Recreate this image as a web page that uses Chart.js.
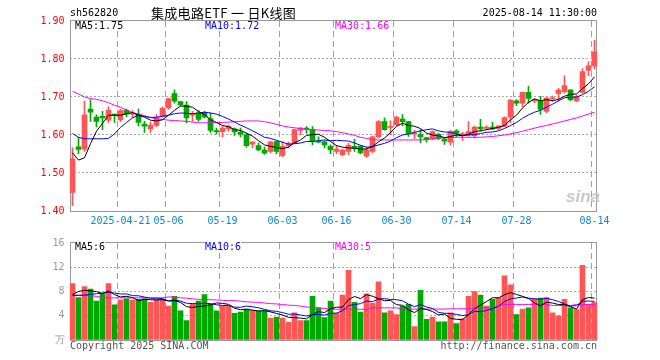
<!DOCTYPE html>
<html><head><meta charset="utf-8">
<script src="https://cdn.jsdelivr.net/npm/chart.js@4"></script>
<style>
html,body{margin:0;padding:0;background:#fff;}
#wrap{position:relative;width:660px;height:360px;overflow:hidden;background:#fff;}
canvas{position:absolute;left:0;}
.t{position:absolute;font-family:"DejaVu Sans Mono",monospace;font-size:10px;line-height:12px;white-space:pre;}
.lg{line-height:10px;background:#fff;}
</style></head><body>
<div id="wrap">
<canvas id="k" width="660" height="232" style="top:0;width:660px;height:232px"></canvas>
<canvas id="v" width="660" height="128" style="top:232px;width:660px;height:128px"></canvas>
<div class="t" style="left:70px;top:7px;color:#000">sh562820</div>
<div class="t" style="left:151px;top:5px;font-family:'Noto Sans CJK SC',sans-serif;font-size:13px;line-height:16px;letter-spacing:0.3px;color:#000">集成电路ETF 一 日K线图</div>
<div class="t" style="right:63px;top:7px;color:#000">2025-08-14 11:30:00</div>
<div class="t lg" style="left:75px;top:21px;color:#000">MA5:1.75</div>
<div class="t lg" style="left:205px;top:21px;color:#0000ff">MA10:1.72</div>
<div class="t lg" style="left:335px;top:21px;color:#ff00ff">MA30:1.66</div>
<div class="t lg" style="left:75px;top:242px;color:#000">MA5:6</div>
<div class="t lg" style="left:205px;top:242px;color:#0000ff">MA10:6</div>
<div class="t lg" style="left:335px;top:242px;color:#ff00ff">MA30:5</div>
<div class="t" style="left:70px;top:340px;color:#555">Copyright 2025 SINA.COM</div>
<div class="t" style="right:63px;top:340px;color:#555">http://finance.sina.com.cn</div>
<div class="t" style="left:566px;top:188px;font-family:'Liberation Sans',sans-serif;font-size:17px;line-height:18px;font-weight:bold;font-style:italic;color:#c9c9c9">sina</div>
</div>
<script>
const dates = ['2025-04-09','2025-04-10','2025-04-11','2025-04-14','2025-04-15','2025-04-16','2025-04-17','2025-04-18','2025-04-21','2025-04-22','2025-04-23','2025-04-24','2025-04-25','2025-04-28','2025-04-29','2025-04-30',
'2025-05-06','2025-05-07','2025-05-08','2025-05-09','2025-05-12','2025-05-13','2025-05-14','2025-05-15','2025-05-16','2025-05-19','2025-05-20','2025-05-21','2025-05-22','2025-05-23','2025-05-26','2025-05-27','2025-05-28','2025-05-29','2025-05-30',
'2025-06-03','2025-06-04','2025-06-05','2025-06-06','2025-06-09','2025-06-10','2025-06-11','2025-06-12','2025-06-13','2025-06-16','2025-06-17','2025-06-18','2025-06-19','2025-06-20','2025-06-23','2025-06-24','2025-06-25','2025-06-26','2025-06-27','2025-06-30',
'2025-07-01','2025-07-02','2025-07-03','2025-07-04','2025-07-07','2025-07-08','2025-07-09','2025-07-10','2025-07-11','2025-07-14','2025-07-15','2025-07-16','2025-07-17','2025-07-18','2025-07-21','2025-07-22','2025-07-23','2025-07-24','2025-07-25','2025-07-28','2025-07-29','2025-07-30','2025-07-31',
'2025-08-01','2025-08-04','2025-08-05','2025-08-06','2025-08-07','2025-08-08','2025-08-11','2025-08-12','2025-08-13','2025-08-14'];
const tickDates = ['2025-04-21','2025-05-06','2025-05-19','2025-06-03','2025-06-16','2025-06-30','2025-07-14','2025-07-28','2025-08-14'];
const tickLabels = ['2025-04-21','05-06','05-19','06-03','06-16','06-30','07-14','07-28','08-14'];
const priceTicks = [1.40,1.50,1.60,1.70,1.80,1.90];
const volTicks = [0,4,8,12,16];
const volUnit = '万';

const open = [1.449,1.569,1.563,1.668,1.647,1.649,1.639,1.655,1.640,1.665,
1.655,1.655,1.629,1.616,1.625,1.649,1.671,1.709,1.688,1.679,
1.652,1.659,1.659,1.643,1.611,1.609,1.616,1.616,1.607,1.601,
1.576,1.572,1.560,1.557,1.583,1.546,1.572,1.579,1.612,1.618,
1.614,1.583,1.582,1.570,1.557,1.548,1.557,1.570,1.570,1.544,
1.557,1.595,1.635,1.620,1.627,1.642,1.635,1.602,1.601,1.593,
1.590,1.602,1.589,1.581,1.611,1.598,1.600,1.598,1.621,1.617,
1.621,1.617,1.623,1.647,1.690,1.684,1.712,1.690,1.691,1.662,
1.695,1.709,1.714,1.719,1.690,1.712,1.770,1.782];
const high = [1.566,1.594,1.689,1.693,1.653,1.662,1.674,1.655,1.668,1.668,
1.664,1.668,1.636,1.634,1.654,1.674,1.697,1.719,1.688,1.688,
1.662,1.664,1.662,1.658,1.618,1.623,1.626,1.619,1.618,1.604,
1.582,1.579,1.568,1.584,1.585,1.583,1.582,1.616,1.620,1.622,
1.622,1.595,1.585,1.574,1.573,1.563,1.578,1.589,1.572,1.568,
1.597,1.638,1.645,1.637,1.649,1.654,1.635,1.612,1.614,1.593,
1.611,1.605,1.591,1.612,1.614,1.607,1.635,1.623,1.641,1.624,
1.634,1.624,1.648,1.694,1.693,1.712,1.728,1.695,1.702,1.700,
1.703,1.723,1.756,1.719,1.706,1.775,1.793,1.849];
const low = [1.414,1.550,1.557,1.636,1.621,1.614,1.633,1.633,1.635,1.648,
1.646,1.623,1.607,1.607,1.621,1.647,1.668,1.684,1.677,1.632,
1.636,1.636,1.645,1.607,1.603,1.595,1.610,1.599,1.595,1.568,
1.566,1.559,1.549,1.553,1.551,1.543,1.566,1.577,1.600,1.605,
1.574,1.580,1.566,1.551,1.551,1.545,1.548,1.557,1.550,1.541,
1.553,1.592,1.613,1.601,1.624,1.624,1.596,1.590,1.579,1.581,
1.587,1.588,1.575,1.573,1.595,1.586,1.597,1.592,1.610,1.614,
1.614,1.614,1.621,1.632,1.677,1.674,1.684,1.685,1.654,1.658,
1.689,1.689,1.711,1.690,1.688,1.710,1.756,1.774];
const close = [1.537,1.562,1.653,1.660,1.636,1.645,1.665,1.652,1.664,1.655,
1.658,1.633,1.623,1.626,1.646,1.670,1.696,1.689,1.679,1.645,
1.657,1.641,1.647,1.612,1.609,1.618,1.623,1.608,1.602,1.572,
1.582,1.561,1.552,1.582,1.557,1.570,1.577,1.614,1.618,1.615,
1.583,1.581,1.574,1.561,1.563,1.560,1.573,1.566,1.553,1.561,
1.595,1.635,1.614,1.623,1.647,1.635,1.604,1.605,1.595,1.588,
1.609,1.591,1.584,1.609,1.605,1.603,1.609,1.621,1.616,1.621,
1.616,1.624,1.646,1.691,1.684,1.712,1.696,1.692,1.667,1.697,
1.697,1.718,1.730,1.693,1.702,1.767,1.782,1.819];
const ma5 = [1.553,1.534,1.540,1.577,1.610,1.631,1.652,1.652,1.652,1.656,
1.659,1.652,1.647,1.639,1.637,1.640,1.652,1.665,1.676,1.676,
1.673,1.662,1.654,1.640,1.633,1.625,1.622,1.614,1.612,1.605,
1.597,1.585,1.574,1.570,1.567,1.564,1.568,1.580,1.587,1.599,
1.601,1.602,1.594,1.583,1.572,1.568,1.566,1.565,1.563,1.563,
1.570,1.582,1.592,1.606,1.623,1.631,1.625,1.623,1.617,1.605,
1.600,1.598,1.593,1.596,1.600,1.598,1.602,1.609,1.611,1.614,
1.617,1.620,1.625,1.640,1.652,1.671,1.686,1.695,1.690,1.693,
1.690,1.694,1.702,1.707,1.708,1.722,1.735,1.753];
const ma10 = [1.604,1.594,1.590,1.590,1.590,1.590,1.591,1.603,1.620,1.633,
1.645,1.652,1.649,1.646,1.647,1.649,1.652,1.656,1.658,1.657,
1.656,1.657,1.660,1.658,1.655,1.649,1.642,1.634,1.626,1.619,
1.611,1.603,1.594,1.591,1.586,1.581,1.576,1.577,1.579,1.583,
1.583,1.585,1.587,1.585,1.586,1.585,1.584,1.579,1.573,1.568,
1.569,1.574,1.578,1.584,1.593,1.600,1.603,1.607,1.611,1.614,
1.616,1.611,1.608,1.607,1.603,1.599,1.600,1.601,1.604,1.607,
1.608,1.611,1.617,1.625,1.633,1.644,1.653,1.660,1.665,1.673,
1.681,1.690,1.698,1.699,1.700,1.706,1.715,1.727];
const ma30 = [1.715,1.708,1.700,1.696,1.694,1.690,1.685,1.678,1.673,1.666,
1.659,1.655,1.651,1.646,1.643,1.641,1.639,1.638,1.637,1.636,
1.634,1.632,1.632,1.632,1.632,1.633,1.634,1.635,1.636,1.637,
1.637,1.637,1.635,1.632,1.628,1.624,1.621,1.619,1.617,1.615,
1.614,1.613,1.612,1.611,1.609,1.606,1.603,1.599,1.594,1.591,
1.588,1.587,1.587,1.587,1.587,1.587,1.587,1.587,1.587,1.588,
1.590,1.592,1.593,1.593,1.594,1.594,1.594,1.594,1.594,1.595,
1.596,1.598,1.600,1.603,1.606,1.610,1.614,1.618,1.622,1.625,
1.629,1.633,1.637,1.641,1.645,1.650,1.655,1.660];
const volume = [9.3,7.0,8.8,8.4,6.4,7.6,9.3,5.8,6.6,6.8,
6.6,6.7,6.8,6.2,6.7,6.7,5.6,7.2,4.8,3.2,
6.0,6.4,7.5,5.9,4.8,5.6,5.6,4.4,4.6,5.1,
4.9,4.8,4.8,3.6,3.8,3.6,2.9,4.5,3.2,3.2,
7.2,5.3,3.7,6.4,4.4,7.4,11.5,6.2,4.6,7.6,
6.1,9.6,4.5,4.8,4.2,5.6,5.9,2.2,8.2,3.4,
3.8,3.0,3.0,4.5,2.7,3.5,7.2,8.0,7.4,5.6,
6.7,7.0,10.6,9.1,4.2,5.1,5.3,6.8,6.9,7.0,
4.5,4.0,6.7,5.3,5.0,12.3,5.8,6.2];
const vma5 = [7.5,8.0,8.2,8.1,7.99,7.65,8.10,7.49,7.11,7.20,
7.00,6.49,6.70,6.64,6.61,6.65,6.42,6.50,6.21,5.50,
5.37,5.53,5.59,5.80,6.12,6.04,5.88,5.25,5.00,5.07,
4.93,4.77,4.85,4.64,4.38,4.12,3.74,3.69,3.61,3.49,
4.21,4.69,4.52,5.16,5.40,5.43,6.67,7.18,6.83,7.47,
7.22,6.84,6.48,6.52,5.83,5.72,4.97,4.52,5.20,5.04,
4.69,4.13,4.29,3.55,3.42,3.36,4.19,5.18,5.76,6.34,
6.98,6.94,7.46,7.81,7.52,7.20,6.85,6.10,5.65,6.23,
6.10,5.85,5.82,5.50,5.09,6.66,7.01,6.91];
const vma10 = [7.35,7.35,7.4,7.5,7.65,7.75,7.85,7.75,7.6,7.60,
7.32,7.29,7.09,6.88,6.91,6.82,6.45,6.60,6.42,6.06,
6.01,5.97,6.04,6.01,5.81,5.70,5.70,5.42,5.40,5.60,
5.48,5.32,5.05,4.82,4.73,4.52,4.26,4.27,4.13,3.94,
4.16,4.22,4.11,4.39,4.44,4.82,5.68,5.85,5.99,6.43,
6.32,6.75,6.83,6.67,6.65,6.47,5.90,5.50,5.86,5.44,
5.21,4.55,4.41,4.37,4.23,4.03,4.16,4.74,4.66,4.88,
5.17,5.57,6.32,6.78,6.93,7.09,6.90,6.78,6.73,6.88,
6.65,6.35,5.96,5.58,5.66,6.38,6.43,6.37];
const vma30 = [7.4,7.4,7.4,7.3,7.2,7.0,6.95,6.95,6.95,6.95,
6.95,6.95,6.95,6.95,6.95,6.95,7.1,7.1,6.95,6.9,
6.8,6.7,6.65,6.65,6.6,6.55,6.5,6.5,6.4,6.3,
6.25,6.2,6.1,6.0,5.95,5.85,5.75,5.7,5.6,5.45,
5.35,5.3,5.2,5.1,5.07,5.07,5.07,5.07,5.07,5.07,
5.3,5.3,5.3,5.3,5.3,5.1,5.1,5.1,5.1,5.1,
5.1,5.1,5.1,5.15,5.15,5.15,5.15,5.15,5.3,5.3,
5.3,5.6,5.87,5.87,5.87,5.87,5.87,5.87,5.87,5.87,
5.7,5.7,5.7,5.7,5.85,5.85,5.85,5.85];

const RED = '#ff5555', GREEN = '#00a800';
const colors = close.map((c,i)=> c >= open[i] ? RED : GREEN);
const bodies = open.map((o,i)=>[o, close[i]]);
const wicks = low.map((l,i)=>[l, high[i]]);
const tickMap = new Map(tickDates.map((d,j)=>[dates.indexOf(d), tickLabels[j]]));
const MONO = 'DejaVu Sans Mono';
const NONE = 'rgba(0,0,0,0)';

const boxPlugin = {id:'box', beforeDatasetsDraw(chart){
  const {ctx, chartArea:a} = chart;
  ctx.save(); ctx.strokeStyle = '#999'; ctx.lineWidth = 1; ctx.setLineDash([]);
  const l = Math.round(a.left)+0.5, r = Math.floor(a.right)-0.5, t = a.top-0.5, b = a.bottom+0.5;
  ctx.strokeRect(l, t, r-l, b-t);
  ctx.restore();
}};

function lineDs(data, color){
  return {type:'line', data, borderColor:color, borderWidth:1, pointRadius:0, tension:0, order:0, fill:false};
}
function xScale(showLabels){
  return {
    type:'category', offset:true,
    grid:{offset:true, drawTicks:false, lineWidth:1,
      color:(c)=> (c.type==='tick' && tickMap.has(c.index)) ? '#a0a0a0' : NONE},
    border:{display:false, dash:[6,4]},
    ticks:{display:showLabels, autoSkip:false, maxRotation:0, minRotation:0, padding:4,
      color:'#0a88d0', font:{family:MONO, size:10},
      callback:(v,i)=> tickMap.get(i) || ''},
    afterFit:(s)=>{ s.height = showLabels ? 21 : 0; }
  };
}

new Chart(document.getElementById('k'), {
  type:'bar',
  data:{labels:dates, datasets:[
    lineDs(ma5,'#000000'), lineDs(ma10,'#0000ff'), lineDs(ma30,'#ff00ff'),
    {data:bodies, backgroundColor:colors, borderWidth:0, barThickness:5, grouped:false, minBarLength:1, order:2},
    {data:wicks, backgroundColor:colors, borderWidth:0, barThickness:1, grouped:false, minBarLength:1, order:3}
  ]},
  options:{
    responsive:false, animation:false, devicePixelRatio:1,
    layout:{padding:{left:0, right:62.5, top:21, bottom:0}},
    plugins:{legend:{display:false}, tooltip:{enabled:false}},
    scales:{
      x: xScale(true),
      y:{ min:priceTicks[0], max:priceTicks[priceTicks.length-1],
        afterBuildTicks:(s)=>{ s.ticks = priceTicks.map(v=>({value:v})); },
        ticks:{padding:5, color:'#ff0000', font:{family:MONO, size:10}, callback:(v)=>Number(v).toFixed(2)},
        grid:{drawTicks:false, lineWidth:1,
          color:(c)=> (c.tick && c.tick.value>priceTicks[0]+0.001 && c.tick.value<priceTicks[priceTicks.length-1]-0.001) ? '#aaa' : NONE},
        border:{display:false, dash:[2,2]},
        afterFit:(s)=>{ s.width = 69.5; }
      }
    }
  },
  plugins:[boxPlugin]
});

new Chart(document.getElementById('v'), {
  type:'bar',
  data:{labels:dates, datasets:[
    lineDs(vma5,'#000000'), lineDs(vma10,'#0000ff'), lineDs(vma30,'#ff00ff'),
    {data:volume, backgroundColor:colors, borderWidth:0, barThickness:5, grouped:false, order:2}
  ]},
  options:{
    responsive:false, animation:false, devicePixelRatio:1,
    layout:{padding:{left:0, right:62.5, top:9, bottom:20}},
    plugins:{legend:{display:false}, tooltip:{enabled:false}},
    scales:{
      x: xScale(false),
      y:{ min:volTicks[0], max:volTicks[volTicks.length-1],
        afterBuildTicks:(s)=>{ s.ticks = volTicks.map(v=>({value:v})); },
        ticks:{padding:5, color:'#999', font:{family:MONO, size:10}, callback:(v)=> v===0 ? volUnit : String(v)},
        grid:{drawTicks:false, lineWidth:1,
          color:(c)=> (c.tick && c.tick.value>volTicks[0] && c.tick.value<volTicks[volTicks.length-1]) ? '#aaa' : NONE},
        border:{display:false, dash:[2,2]},
        afterFit:(s)=>{ s.width = 69.5; }
      }
    }
  },
  plugins:[boxPlugin]
});
</script>
</body></html>
